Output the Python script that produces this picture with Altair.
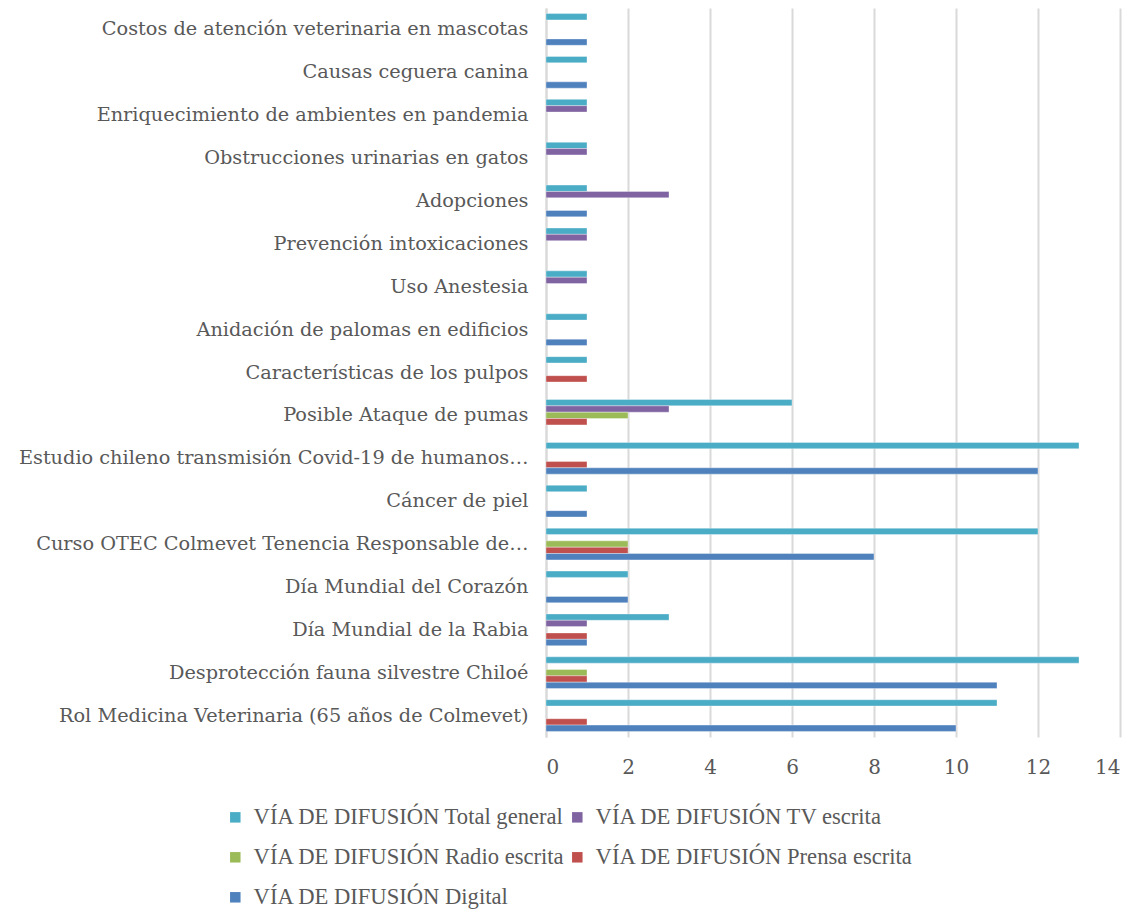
import altair as alt
import pandas as pd

categories = [
    "Costos de atención veterinaria en mascotas",
    "Causas ceguera canina",
    "Enriquecimiento de ambientes en pandemia",
    "Obstrucciones urinarias en gatos",
    "Adopciones",
    "Prevención intoxicaciones",
    "Uso Anestesia",
    "Anidación de palomas en edificios",
    "Características de los pulpos",
    "Posible Ataque de pumas",
    "Estudio chileno transmisión Covid-19 de humanos…",
    "Cáncer de piel",
    "Curso OTEC Colmevet Tenencia Responsable de…",
    "Día Mundial del Corazón",
    "Día Mundial de la Rabia",
    "Desprotección fauna silvestre Chiloé",
    "Rol Medicina Veterinaria (65 años de Colmevet)",
]

series = [
    "VÍA DE DIFUSIÓN Total general",
    "VÍA DE DIFUSIÓN TV escrita",
    "VÍA DE DIFUSIÓN Radio escrita",
    "VÍA DE DIFUSIÓN Prensa escrita",
    "VÍA DE DIFUSIÓN Digital",
]
colors = ["#4BACC6", "#8064A2", "#9BBB59", "#C0504D", "#4F81BD"]

total_general = [1, 1, 1, 1, 1, 1, 1, 1, 1, 6, 13, 1, 12, 2, 3, 13, 11]
tv_escrita = [0, 0, 1, 1, 3, 1, 1, 0, 0, 3, 0, 0, 0, 0, 1, 0, 0]
radio_escrita = [0, 0, 0, 0, 0, 0, 0, 0, 0, 2, 0, 0, 2, 0, 0, 1, 0]
prensa_escrita = [0, 0, 0, 0, 0, 0, 0, 0, 1, 1, 1, 0, 2, 0, 1, 1, 1]
digital = [1, 1, 0, 0, 1, 0, 0, 1, 0, 0, 12, 1, 8, 2, 1, 11, 10]

x_ticks = [0, 2, 4, 6, 8, 10, 12, 14]

values_by_series = [total_general, tv_escrita, radio_escrita, prensa_escrita, digital]
rows = []
for s, vals in zip(series, values_by_series):
    for c, v in zip(categories, vals):
        rows.append({"categoria": c, "serie": s, "valor": v})
df = pd.DataFrame(rows)

FONT = "DejaVu Serif"
LEG_FONT = "Liberation Serif"
TXT = "#595959"
GRID = "#D9D9D9"

chart = (
    alt.Chart(df)
    .transform_filter("datum.valor > 0")
    .mark_bar(stroke="white", strokeOpacity=0.35, strokeWidth=1)
    .encode(
        y=alt.Y(
            "categoria:N",
            sort=categories,
            title=None,
            scale=alt.Scale(paddingInner=0.26, paddingOuter=0.13),
            axis=alt.Axis(
                domain=True,
                domainColor=GRID,
                domainWidth=2,
                ticks=False,
                labelFont=FONT,
                labelFontSize=19.3,
                labelColor=TXT,
                labelPadding=18,
                labelLimit=700,
                grid=False,
            ),
        ),
        yOffset=alt.YOffset(
            "serie:N", sort=series, scale=alt.Scale(paddingInner=0, paddingOuter=0)
        ),
        x=alt.X(
            "valor:Q",
            title=None,
            scale=alt.Scale(domain=[0, 14], nice=False),
            axis=alt.Axis(
                values=x_ticks,
                grid=True,
                gridColor=GRID,
                gridWidth=2,
                domain=False,
                ticks=False,
                labelFont=FONT,
                labelFontSize=20,
                labelColor=TXT,
                labelPadding=20,
            ),
        ),
        color=alt.Color(
            "serie:N",
            sort=series,
            scale=alt.Scale(domain=series, range=colors),
            legend=alt.Legend(
                title=None,
                orient="none",
                direction="horizontal",
                legendX=-322,
                legendY=798,
                columns=2,
                symbolType="square",
                symbolSize=110,
                symbolStrokeWidth=0,
                labelFont=LEG_FONT,
                labelFontSize=22.6,
                labelColor=TXT,
                labelLimit=600,
                rowPadding=17,
                columnPadding=1,
                labelOffset=7,
            ),
        ),
    )
    .properties(
        width=574,
        height=729,
        autosize=alt.AutoSizeParams(type="none"),
        padding={"left": 538, "top": 0, "right": 14, "bottom": 175},
    )
    .configure_view(strokeWidth=0)
)

chart.save("out.html", embed_options={"renderer": "svg", "actions": False})
